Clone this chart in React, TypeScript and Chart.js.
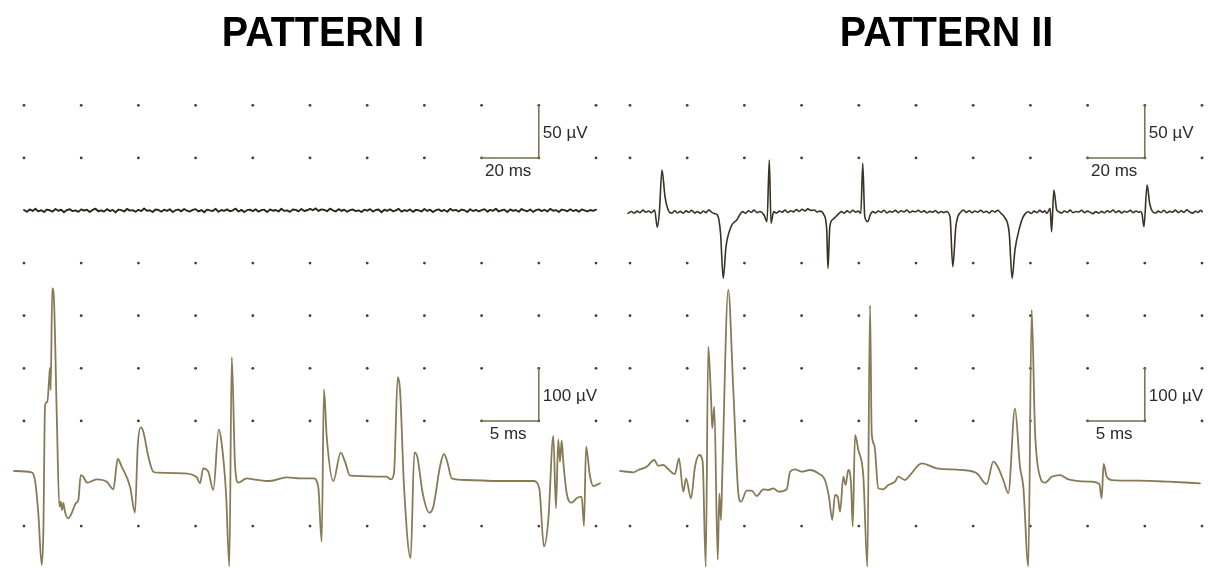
import { useEffect, useRef } from "react";
import { Chart, registerables } from "chart.js";

Chart.register(...registerables);

const W = 1213;
const H = 568;

// Page layout of the dotted grid (pixels)
const PANEL_X0 = [24, 630];
const COL_PX = 57.2;
const COLS = 10;
const ROW_Y0 = 105.3;
const ROW_PX = 52.6;
const DOT_ROWS = [0, 1, 3, 4, 5, 6, 8];
const TOP_BASE_ROW = 2;
const BOT_BASE_ROW = 7;

// Calibration of the two recording strips
const TOP_MS_PER_DIV = 20;
const TOP_UV_PER_DIV = 50;
const BOT_MS_PER_DIV = 5;
const BOT_UV_PER_DIV = 100;

const titles = ["PATTERN I", "PATTERN II"];
const titleCenters = [323, 946.5];

// Pattern I, low-gain sweep: baseline noise only (µV, one sample per ms from 0 ms)
const restNoise = [
  0.5, -1.2, 1.0, -0.4, 1.6, -0.8, 0.3, -1.5, 0.9, 0.2, -1.1, 1.4, -0.3, 0.7, -1.6, 0.4, 1.2, -0.6, 0.1, -1.3,
  1.1, -0.2, 0.8, -1.4, 0.5, 1.7, -0.7, 0.2, -1.0, 1.3, -0.5, 0.6, -1.8, 0.9, 0.3, -0.9, 1.5, -0.1, 0.4, -1.2,
  0.7, -0.6, 1.9, -0.3, 0.2, -1.4, 1.0, 0.5, -1.1, 0.8, -0.4, 1.2, -1.5, 0.3, 0.9, -0.8, 1.4, -0.2, -1.0, 0.6,
  1.3, -0.9, 0.4, -1.7, 0.8, 0.1, -0.5, 1.6, -1.2, 0.5, -0.3, 1.1, -0.7, 0.2, 1.8, -1.0, 0.6, -1.4, 0.3, 0.9,
  -0.6, 1.2, -1.1, 0.4, 0.8, -1.5, 1.0, -0.2, 0.5, -0.9, 1.7, -0.4, 0.1, -1.3, 0.9, 0.6, -0.8, 1.4, -0.5, 0.2,
  1.5, 0.3, 2.0, -0.4, 1.1, 0.6, -0.7, 1.8, 0.2, -0.9, 1.3, -0.3, 0.7, -1.2, 0.4, 1.0, -0.6, 0.2, -1.4, 0.8,
  -0.2, 1.3, -1.0, 0.5, 0.9, -1.6, 0.7, -0.3, 1.2, -0.8, 0.1, 1.5, -1.1, 0.4, -0.5, 1.0, -1.3, 0.6, 0.2, -0.9,
  1.4, -0.4, 0.8, -1.5, 0.3, 1.1, -0.7, 0.5, -1.2, 1.6, -0.1, 0.6, -1.0, 0.9, 0.2, -1.4, 1.2, -0.5, 0.7, -0.8,
  0.4, 1.3, -1.1, 0.6, -0.3, 1.7, -0.9, 0.2, 0.8, -1.5, 1.0, -0.4, 0.5, -1.2, 1.4, 0.1, -0.7, 0.9, -1.3, 0.3,
  1.1, -0.6, 0.7, -1.0, 1.5, -0.2, 0.4, -1.4, 0.9, 0.3, -0.8, 1.2, -0.5, 0.6, -1.1, 1.0, 0.2, -0.9, 0.5, -0.3, 0.8,
];

// Pattern II, low-gain sweep: [ms, µV]
const spontaneousSweep: [number, number][] = [
  [-0.7, -2.7], [0.5, -1.0], [1.5, -2.4], [2.5, -0.6], [3.5, -2.0], [4.5, 0.4], [5.5, -1.6], [6.5, -0.5], [7.5, -2.1],
  [8.6, 0.5], [9.55, -16], [10.25, -2.4], [11.19, 38.5], [12.24, 13.1], [13.64, -1.1],
  [14.6, -2.5], [15.6, -0.3], [16.6, -2.2], [17.6, -0.8], [18.6, -2.6], [19.6, -0.4], [20.6, -1.9], [21.6, 0.3],
  [22.6, -2.3], [23.6, -1.0], [24.6, -2.7], [25.6, -0.5], [26.6, -2.0], [27.6, 0.6], [28.6, -1.8], [29.6, -3.0],
  [30.56, -4.3], [31.65, -21.4], [32.59, -64.5], [33.57, -34.4], [35.32, -15.4], [36.3, -11.5], [37.35, -9],
  [38.3, -4.5], [39.38, -1.1],
  [40.4, -2.6], [41.4, -0.2], [42.4, -1.7], [43.4, 0.5], [44.4, -2.1], [45.4, -0.9],
  [46.86, -4.3], [47.91, -10.6], [48.71, 48], [49.31, -12.2], [50.22, -1.1],
  [51.2, -2.4], [52.2, -0.6], [53.2, -1.5], [54.2, 0.4], [55.2, -1.9], [56.2, -0.2], [57.2, -1.3], [58.2, 0.8],
  [59.2, -0.9], [60.2, 1.2], [61.2, -0.4], [62.2, 1.5], [63.2, 0.1], [64.45, 0.5],
  [65.4, -1.4], [66.4, -0.6], [67.84, -4.3], [68.79, -18.5], [69.21, -55], [69.87, -15.4], [70.9, -8.5],
  [71.9, -5.9], [72.9, -3.2], [73.93, -1.1],
  [74.9, -2.5], [75.9, -0.4], [76.9, -2.0], [77.9, 0.2], [78.9, -1.7], [79.8, -0.6],
  [80.71, -2.7], [81.38, 44.9], [82.08, -5.9], [83.16, -10.6], [84.0, -4.0], [84.77, -1.1],
  [85.8, -2.3], [86.8, -0.5], [87.8, -1.8], [88.8, 0.3], [89.8, -2.2], [90.8, -0.7], [91.8, -1.6], [92.8, 0.1],
  [93.8, -2.0], [94.8, -0.3], [95.8, -1.4], [96.8, 0.5], [97.8, -1.9], [98.8, -0.6], [99.8, -1.2], [100.8, 0.2],
  [101.8, -1.7], [102.8, -0.4], [103.8, -2.1], [104.8, -0.8], [105.8, -1.5], [106.8, 0.0], [107.8, -2.3],
  [108.8, -0.9], [109.7, -2.0],
  [110.5, -1.1], [111.9, -5.9], [112.85, -53.4], [113.93, -15.4], [114.6, -6.0], [115.3, -2.7], [116.6, 0.5],
  [117.6, -1.8], [118.6, -0.2], [119.6, -2.1], [120.6, -0.5], [121.6, -1.6], [122.6, 0.3], [123.6, -1.9],
  [124.6, -0.7], [125.6, -2.4], [126.6, -0.3], [127.6, -1.5], [128.6, 0.2], [129.7, -2.6],
  [130.8, -5.9], [132.6, -21.7], [133.6, -64.5], [134.6, -37.5], [136.3, -15.4], [137.3, -7.0], [138.3, -2.7],
  [139.3, -1.2], [140.3, -2.8], [141.3, -0.6], [142.3, -2.0], [143.3, 0.1], [144.3, -1.7], [145.0, -0.4],
  [145.8, -2.7], [146.9, 2.1], [147.4, -20.2], [148.2, 19.5], [149.2, 0.5], [149.9, -1.1],
  [150.9, -2.4], [151.9, -0.5], [152.9, -1.8], [153.9, 0.4], [154.9, -2.1], [155.9, -0.9], [156.9, -1.4],
  [157.9, 0.2], [158.9, -2.0], [159.9, -0.6], [160.9, -1.7], [161.9, -3.0], [162.9, -1.1], [163.9, -2.5],
  [164.9, -0.8], [165.9, -2.2], [166.9, -0.3], [167.9, -1.6], [168.9, 0.5], [169.9, -1.9], [170.9, -0.4],
  [171.9, -2.3], [172.9, -0.7], [173.9, -1.5], [174.9, 0.1], [175.9, -2.0], [176.9, -0.5], [177.9, -1.8],
  [178.5, -0.9],
  [179.0, -2.7], [179.7, -15.4], [180.8, 24.2], [181.7, 6.8], [182.7, -1.1],
  [183.7, -2.4], [184.7, -0.6], [185.7, -1.9], [186.7, 0.3], [187.7, -2.2], [188.7, -0.8], [189.7, -1.5],
  [190.7, 0.4], [191.7, -2.0], [192.7, -0.3], [193.7, -1.7], [194.7, 0.6], [195.7, -1.3], [196.7, -2.5],
  [197.7, -0.7], [198.7, -1.8], [199.5, 0.2], [200.1, -1.1],
];

// Pattern I, high-gain sweep: [ms, µV]
const effortSweepI: [number, number][] = [
  [-0.87, 4.8], [0.67, 2.3], [0.96, -12.4], [1.25, -75.1], [1.55, -174], [1.69, -113], [1.84, 130],
  [2.04, 136.5], [2.21, 184], [2.27, 200.6], [2.33, 158.7], [2.47, 352], [2.62, 330], [2.86, 115],
  [3.09, -63], [3.21, -53.6], [3.32, -69.4], [3.44, -56], [3.58, -72.6], [3.87, -85.2], [4.17, -75.1],
  [4.55, -56], [4.75, -50.4], [4.96, -2.9], [5.18, -6.1], [5.53, -17.5], [6.35, -11], [7.23, -15.6],
  [7.81, -30], [8.19, 27.6], [8.54, 12.9], [9.27, -25.1], [9.7, -74.5], [9.94, 51], [10.2, 87.8],
  [10.43, 79.5], [10.87, 31.9], [11.3, 3.4], [11.74, 1.5], [13.92, 0.4], [15.1, -7.2], [15.38, -18.6],
  [15.67, 9.9], [16.11, 3.4], [16.55, -31.4], [17.02, 84], [17.28, 57.4], [17.66, -37.6], [17.95, -176],
  [18.16, 221], [18.44, 19.4], [18.73, -17.5], [19.47, -9.1], [20.04, -11], [21.5, -14.3], [22.96, -7.2],
  [24.13, -9.1], [25.29, -9.1], [25.72, -25.1], [26.02, -129.6], [26.22, 160], [26.46, 70], [27.04, -14.3],
  [27.68, 39.5], [28.06, 22.4], [28.5, -4.2], [31.7, -6.1], [32.05, -11], [32.34, 0.4], [32.67, 183],
  [32.87, 158.7], [33.22, -25.1], [33.8, -161], [34.12, 39.5], [34.38, 31.9], [34.85, -37.6], [35.43, -74.5],
  [35.78, -63.1], [36.36, 12.9], [36.71, 37.1], [37.0, 22.4], [37.39, -9.1], [38.7, -12.4], [41.61, -14.3],
  [44.52, -14.3], [45.04, -28.1], [45.45, -139], [45.83, -88.4], [46.27, 71.3], [46.5, -66.2], [46.7, 65],
  [46.85, 22.4], [47.0, 62.4], [47.14, 22.4], [47.44, -37.6], [47.88, -55.5], [48.31, -47.1], [48.75, -44.1],
  [48.95, -99.8], [49.13, 51], [49.47, -4.8], [49.76, -23.8], [50.35, -18.6],
];

// Pattern II, high-gain sweep: [ms, µV]
const effortSweepII: [number, number][] = [
  [-0.87, 4.8], [0.29, 2.3], [0.73, 6.7], [1.46, 12.9], [2.12, 25.7], [2.47, 14.8], [2.91, 16.2], [3.35, 8],
  [3.93, -1], [4.28, 28.9], [4.66, -34.6], [4.9, -9.1], [5.33, -47.1], [5.68, 12.9], [6.06, 35.2], [6.35, 22.4],
  [6.62, -177], [6.84, 241], [7.08, 146], [7.19, 86], [7.37, 127], [7.67, -164], [7.81, -37.6], [7.95, -88.4],
  [8.07, 0.4], [8.59, 349], [9.03, 158.7], [9.47, -37.6], [9.7, -53.6], [10.2, -32.7], [10.64, -32.7],
  [11.07, -42.8], [11.65, -30], [12.09, -31.4], [12.53, -28.1], [12.96, -34.6], [13.7, -30], [13.99, 3.4],
  [14.42, 8], [15.01, 3.4], [15.73, 6.7], [16.46, 0.4], [17.04, -12.4], [17.39, -44.1], [17.68, -88.4],
  [17.92, -40.9], [18.16, -44.1], [18.36, -72.6], [18.65, -6.1], [18.85, -21.9], [19.08, 6.7], [19.32, -18.6],
  [19.47, -101], [19.67, 73.2], [19.96, 44.7], [20.4, -6.1], [20.75, -177], [20.98, 320], [21.13, 76.4],
  [21.36, 54.2], [21.7, -28.1], [22.14, -30], [22.58, -21.9], [23.16, -15.6], [23.45, -6.1], [24.04, -12.4],
  [24.48, -2.9], [25.5, 19.4], [26.81, 9.9], [28.99, 6.7], [30.31, 0.4], [31.18, -20], [31.76, 22.4],
  [32.14, 12.9], [32.63, -12.4], [33.07, -37.6], [33.65, 124], [34.09, 12.9], [34.38, -25.1], [34.82, -177],
  [35.11, 311], [35.4, 82.7], [35.84, -6.1], [36.27, -17.5], [36.86, -6.1], [37.59, -2.9], [38.31, -11],
  [40.36, -15.6], [41.02, -20], [41.23, -47.1], [41.4, 18.1], [41.67, -6.1], [42.1, -12.4], [44.43, -13.7],
  [47.05, -15.6], [49.82, -18.6],
];

// Calibration bars: [ms, µV] per strip
const topBar = { ms: 20, uv: 50 };
const botBar = { ms: 5, uv: 100 };

const TRACE_BOT = "#877a56";
const TRACE_TOP_I = "#2a2519";
const TRACE_TOP_II = "#3a3324";
const BAR_COLOR = "#7a6e4f";
const DOT_COLOR = "#463e2b";
const TEXT_COLOR = "#2b2b2b";
const FONT = '"Liberation Sans", Arial, sans-serif';

function xRange(x0: number, msPerDiv: number) {
  const pxPerMs = COL_PX / msPerDiv;
  return { min: -x0 / pxPerMs, max: (W - x0) / pxPerMs };
}

function yRange(baseRow: number, uvPerDiv: number) {
  const baseY = ROW_Y0 + baseRow * ROW_PX;
  const pxPerUv = ROW_PX / uvPerDiv;
  return { min: -(H - baseY) / pxPerUv, max: baseY / pxPerUv };
}

const toXY = (pts: [number, number][]) => pts.map(([x, y]) => ({ x, y }));

function barPoints(msPerDiv: number, uvPerDiv: number, baseRow: number, barRow: number, ms: number, uv: number) {
  const tEnd = (COLS - 1) * msPerDiv;
  const vH = (baseRow - barRow) * uvPerDiv;
  return [
    { x: tEnd - ms, y: vH },
    { x: tEnd, y: vH },
    { x: tEnd, y: vH + uv },
  ];
}

const sideIds = ["L", "R"];

export default function App() {
  const ref = useRef<HTMLCanvasElement | null>(null);

  useEffect(() => {
    if (!ref.current) return;

    const scales: Record<string, any> = {
      yTop: { type: "linear", axis: "y", display: false, ...yRange(TOP_BASE_ROW, TOP_UV_PER_DIV) },
      yBot: { type: "linear", axis: "y", display: false, ...yRange(BOT_BASE_ROW, BOT_UV_PER_DIV) },
    };
    sideIds.forEach((s, i) => {
      scales["xTop" + s] = { type: "linear", axis: "x", display: false, ...xRange(PANEL_X0[i], TOP_MS_PER_DIV) };
      scales["xBot" + s] = { type: "linear", axis: "x", display: false, ...xRange(PANEL_X0[i], BOT_MS_PER_DIV) };
    });

    const line = (data: any[], xId: string, yId: string, color: string, width: number, smooth: boolean) => ({
      data,
      xAxisID: xId,
      yAxisID: yId,
      borderColor: color,
      borderWidth: width,
      pointRadius: 0,
      tension: 0,
      cubicInterpolationMode: smooth ? ("monotone" as const) : ("default" as const),
      fill: false,
      clip: false as const,
      borderJoinStyle: "round" as const,
      borderCapStyle: "round" as const,
    });

    const datasets: any[] = [];
    sideIds.forEach((s) => {
      datasets.push(line(barPoints(TOP_MS_PER_DIV, TOP_UV_PER_DIV, TOP_BASE_ROW, 1, topBar.ms, topBar.uv), "xTop" + s, "yTop", BAR_COLOR, 1.5, false));
      datasets.push(line(barPoints(BOT_MS_PER_DIV, BOT_UV_PER_DIV, BOT_BASE_ROW, 6, botBar.ms, botBar.uv), "xBot" + s, "yBot", BAR_COLOR, 1.5, false));
    });
    datasets.push(line(restNoise.map((v, i) => ({ x: i, y: v })), "xTopL", "yTop", TRACE_TOP_I, 1.9, false));
    datasets.push(line(toXY(spontaneousSweep), "xTopR", "yTop", TRACE_TOP_II, 1.6, true));
    datasets.push(line(toXY(effortSweepI), "xBotL", "yBot", TRACE_BOT, 1.8, true));
    datasets.push(line(toXY(effortSweepII), "xBotR", "yBot", TRACE_BOT, 1.8, true));

    const decorations = {
      id: "emgDecorations",
      beforeDatasetsDraw(chart: any) {
        const ctx = chart.ctx;
        const yS = chart.scales.yTop;
        ctx.save();
        ctx.fillStyle = DOT_COLOR;
        sideIds.forEach((s) => {
          const xS = chart.scales["xTop" + s];
          for (let c = 0; c <= COLS; c++) {
            DOT_ROWS.forEach((r) => {
              const px = xS.getPixelForValue(c * TOP_MS_PER_DIV);
              const py = yS.getPixelForValue((TOP_BASE_ROW - r) * TOP_UV_PER_DIV);
              ctx.beginPath();
              ctx.arc(px, py, 1.4, 0, Math.PI * 2);
              ctx.fill();
            });
          }
        });
        ctx.restore();
      },
      afterDatasetsDraw(chart: any) {
        const ctx = chart.ctx;
        ctx.save();
        // titles
        ctx.fillStyle = "#000";
        ctx.font = `bold 42px ${FONT}`;
        ctx.textAlign = "center";
        ctx.textBaseline = "alphabetic";
        titles.forEach((t, i) => {
          ctx.save();
          ctx.translate(titleCenters[i], 46);
          ctx.scale(0.94, 1);
          ctx.fillText(t, 0, 0);
          ctx.restore();
        });
        // calibration labels
        ctx.fillStyle = TEXT_COLOR;
        ctx.font = `17px ${FONT}`;
        const strips = [
          { x: "xTop", y: "yTop", msDiv: TOP_MS_PER_DIV, uvDiv: TOP_UV_PER_DIV, base: TOP_BASE_ROW, row: 1, bar: topBar },
          { x: "xBot", y: "yBot", msDiv: BOT_MS_PER_DIV, uvDiv: BOT_UV_PER_DIV, base: BOT_BASE_ROW, row: 6, bar: botBar },
        ];
        sideIds.forEach((s) => {
          strips.forEach((st) => {
            const xS = chart.scales[st.x + s];
            const yS = chart.scales[st.y];
            const pts = barPoints(st.msDiv, st.uvDiv, st.base, st.row, st.bar.ms, st.bar.uv);
            const x0 = xS.getPixelForValue(pts[0].x);
            const x1 = xS.getPixelForValue(pts[1].x);
            const yH = yS.getPixelForValue(pts[1].y);
            const yT = yS.getPixelForValue(pts[2].y);
            ctx.textAlign = "center";
            ctx.fillText(`${st.bar.ms} ms`, (x0 + x1) / 2 - 2, yH + 18.5);
            ctx.textAlign = "left";
            ctx.fillText(`${st.bar.uv} µV`, x1 + 4, (yH + yT) / 2 + 6);
          });
        });
        ctx.restore();
      },
    };

    const chart = new Chart(ref.current, {
      type: "line",
      data: { datasets },
      options: {
        responsive: false,
        animation: false,
        events: [],
        layout: { padding: 0 },
        scales,
        plugins: { legend: { display: false }, tooltip: { enabled: false } },
      },
      plugins: [decorations],
    });

    return () => chart.destroy();
  }, []);

  return (
    <div style={{ position: "fixed", left: 0, top: 0, width: W, height: H, background: "#fff" }}>
      <canvas ref={ref} width={W} height={H} style={{ display: "block" }} />
    </div>
  );
}
